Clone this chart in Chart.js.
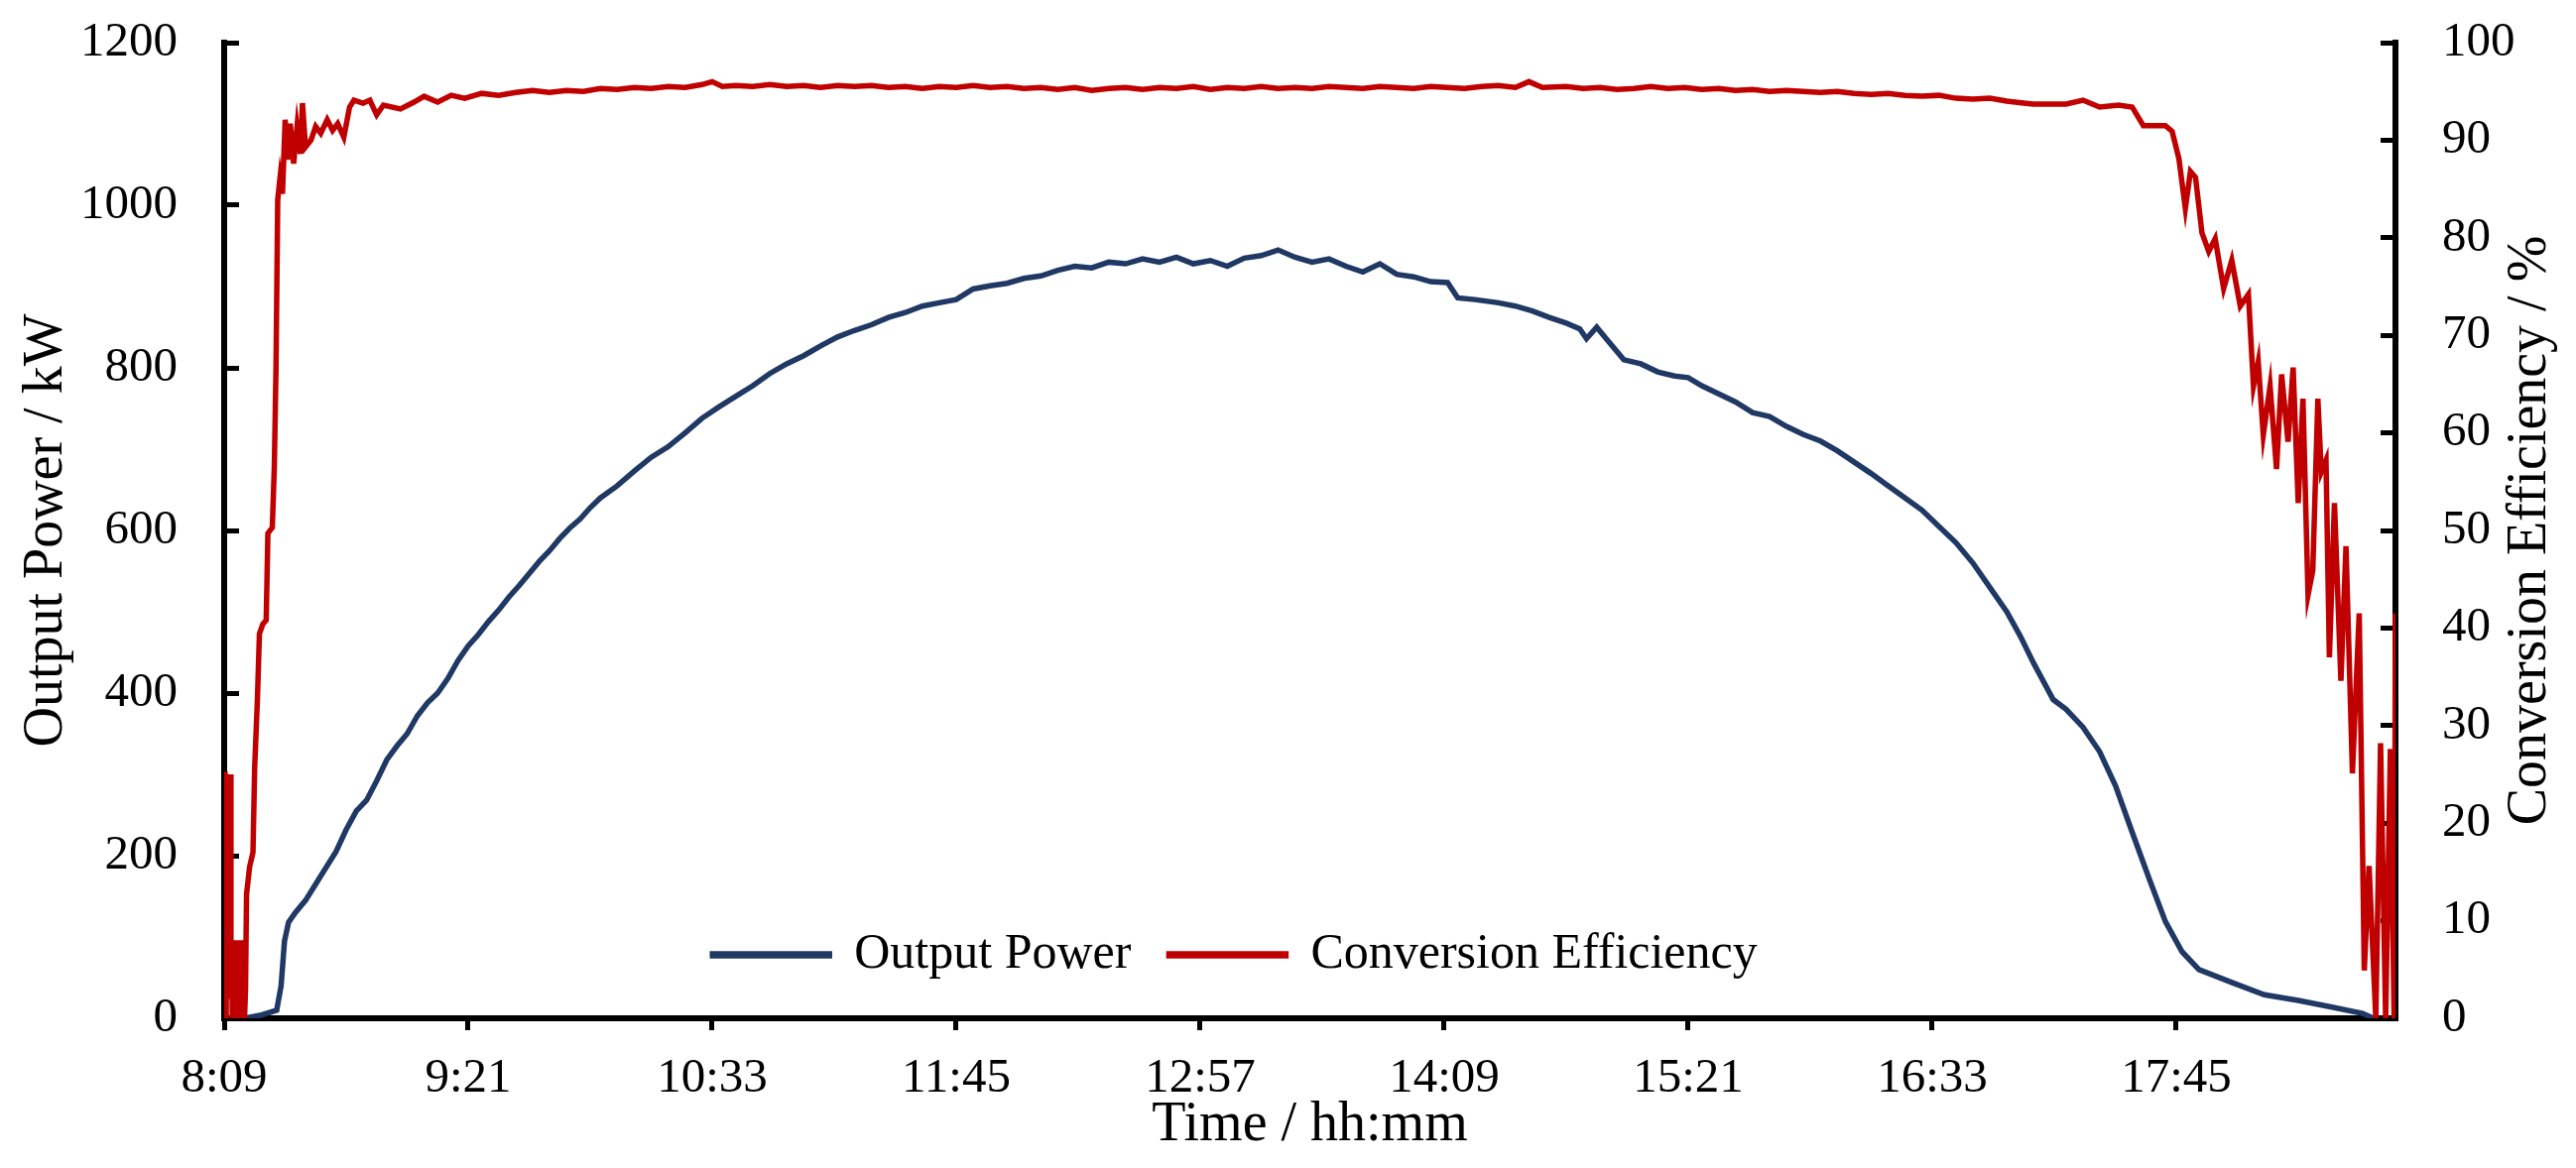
<!DOCTYPE html>
<html>
<head>
<meta charset="utf-8">
<script src="https://cdn.jsdelivr.net/npm/chart.js@4/dist/chart.umd.min.js"></script>
<style>
  html, body { margin: 0; padding: 0; background: #ffffff; }
  #c { display: block; }
</style>
</head>
<body>
<canvas id="c" width="2597" height="1178"></canvas>
<script>
// ---------------- DATA ----------------
const xTickLabels = ['8:09', '9:21', '10:33', '11:45', '12:57', '14:09', '15:21', '16:33', '17:45'];
const xRange = ['8:09:00', '18:49:42'];
const powerRange = [0, 1200];
const powerStep = 200;
const effRange = [0, 100];
const effStep = 10;

const seriesNames = ['Output Power', 'Conversion Efficiency'];
const xTitle = 'Time / hh:mm';
const yTitle = 'Output Power / kW';
const y1Title = 'Conversion Efficiency / %';

const powerTimes = [
  '8:15:00','8:20:00','8:24:30','8:25:48','8:26:48','8:28:00','8:30:00','8:33:00','8:36:00','8:39:00',
  '8:42:00','8:45:00','8:48:00','8:51:00','8:54:00','8:57:00','9:00:00','9:03:00','9:06:00','9:09:00',
  '9:12:00','9:15:00','9:18:00','9:21:00','9:24:00','9:27:00','9:30:00','9:33:00','9:36:00','9:39:00',
  '9:42:00','9:45:00','9:48:00','9:51:00','9:54:00','9:57:00','10:00:00','10:05:00','10:10:00','10:15:00',
  '10:20:00','10:25:00','10:30:00','10:35:00','10:40:00','10:45:00','10:50:00','10:55:00','11:00:00','11:05:00',
  '11:10:00','11:15:00','11:20:00','11:25:00','11:30:00','11:35:00','11:40:00','11:45:00','11:50:00','11:55:00',
  '12:00:00','12:05:00','12:10:00','12:15:00','12:20:00','12:25:00','12:30:00','12:35:00','12:40:00','12:45:00',
  '12:50:00','12:55:00','13:00:00','13:05:00','13:10:00','13:15:00','13:20:00','13:25:00','13:30:00','13:35:00',
  '13:40:00','13:45:00','13:50:00','13:55:00','14:00:00','14:05:00','14:10:00','14:13:00','14:18:00','14:25:00',
  '14:30:00','14:35:00','14:40:00','14:45:00','14:49:00','14:51:00','14:54:00','14:58:00','15:02:00','15:07:00',
  '15:12:00','15:17:00','15:21:00','15:25:00','15:30:00','15:35:00','15:40:00','15:45:00','15:50:00','15:55:00',
  '16:00:00','16:05:00','16:10:00','16:15:00','16:20:00','16:25:00','16:30:00','16:35:00','16:40:00','16:45:00',
  '16:50:00','16:55:00','16:59:00','17:02:54','17:08:42','17:12:30','17:17:30','17:22:24','17:27:06','17:32:00',
  '17:37:00','17:41:48','17:46:42','17:51:42','18:01:24','18:11:00','18:21:00','18:30:36','18:40:00','18:43:12'
];
const powerValues = [
  0, 4, 10, 40, 95, 118, 130, 145, 165, 185,
  205, 232, 255, 268, 292, 318, 335, 350, 372, 388,
  400, 418, 440, 458, 472, 488, 502, 518, 532, 547,
  562, 575, 590, 603, 614, 628, 640, 655, 673, 690,
  703, 720, 738, 752, 765, 778, 793, 805, 815, 827,
  838, 846, 853, 862, 868, 876, 880, 884, 897, 901,
  904, 910, 913, 920, 925, 923, 930, 928, 934, 930,
  936, 928, 932, 925, 935, 938, 945, 936, 930, 934,
  925, 918, 928, 915, 912, 906, 905, 886, 884, 880,
  876, 870, 862, 855, 848, 836, 850, 830, 810, 805,
  795, 790, 788, 778, 768, 758, 745, 740, 728, 718,
  710, 698, 684, 670, 655, 640, 625, 605, 585, 560,
  530, 500, 470, 437, 392, 380, 358, 328, 286, 229,
  172, 119, 82, 60, 44, 29, 22, 14, 6, 0
];

const effTimes = [
  '8:09:00','8:09:06','8:09:18','8:09:36','8:09:54','8:10:12','8:10:30','8:10:48','8:11:00','8:11:12',
  '8:11:24','8:11:36','8:11:48','8:12:00','8:12:12','8:12:24','8:12:36','8:12:48','8:13:00','8:13:12',
  '8:13:24','8:13:36','8:13:48','8:14:00','8:14:12','8:14:24','8:14:36','8:14:48','8:15:00','8:15:18',
  '8:15:36','8:16:30','8:17:30','8:18:00','8:18:48','8:19:24','8:20:24','8:21:24',
  '8:21:54','8:23:12','8:23:48','8:24:18','8:24:48','8:25:30','8:26:12','8:27:00','8:27:42','8:28:30',
  '8:29:30','8:30:30','8:31:30','8:32:06','8:33:00','8:34:36','8:36:00','8:37:30','8:39:24','8:41:00',
  '8:42:30','8:44:18','8:46:00','8:47:18','8:50:00','8:52:00','8:54:00','8:56:00','9:01:00','9:05:00',
  '9:08:00','9:12:00','9:16:00','9:20:00','9:25:00','9:30:00','9:35:00','9:40:00','9:45:00','9:50:00',
  '9:55:00','10:00:00','10:05:00','10:10:00','10:15:00','10:20:00','10:25:00','10:30:00','10:33:00','10:36:00',
  '10:40:00','10:45:00','10:50:00','10:55:00','11:00:00','11:05:00','11:10:00','11:15:00','11:20:00','11:25:00',
  '11:30:00','11:35:00','11:40:00','11:45:00','11:50:00','11:55:00','12:00:00','12:05:00','12:10:00','12:15:00',
  '12:20:00','12:25:00','12:30:00','12:35:00','12:40:00','12:45:00','12:50:00','12:55:00','13:00:00','13:05:00',
  '13:10:00','13:15:00','13:20:00','13:25:00','13:30:00','13:35:00','13:40:00','13:45:00','13:50:00','13:55:00',
  '14:00:00','14:05:00','14:10:00','14:15:00','14:20:00','14:25:00','14:30:00','14:34:00','14:38:00','14:45:00',
  '14:50:00','14:55:00','15:00:00','15:05:00','15:10:00','15:15:00','15:20:00','15:25:00','15:30:00','15:35:00',
  '15:40:00','15:45:00','15:50:00','15:55:00','16:00:00','16:05:00','16:10:00','16:15:00','16:20:00','16:25:00',
  '16:30:00','16:35:00','16:40:00','16:45:00','16:50:00','16:55:00','17:00:00','17:02:54','17:12:30','17:17:30',
  '17:22:24','17:28:00','17:32:00','17:35:18','17:41:48','17:43:48','17:45:48','17:47:42','17:49:12','17:50:42',
  '17:52:36','17:54:36','17:56:30','17:59:00','18:01:24','18:03:54','18:06:18','18:07:48','18:09:12','18:10:42',
  '18:12:42','18:14:36','18:16:06','18:18:00','18:19:30','18:21:00','18:22:24','18:23:54','18:25:18','18:26:48',
  '18:27:48','18:29:12','18:30:12','18:31:42','18:33:36','18:35:06','18:37:00','18:39:00','18:40:30','18:41:54',
  '18:43:54','18:45:18','18:46:48','18:48:12','18:49:18','18:49:42'
];
const effValues = [
  0, 25, 25, 0, 25, 2, 24, 25, 3, 8,
  0, 7, 0, 8, 0, 7, 0, 8, 0, 7,
  0, 8, 0, 7, 0, 8, 0, 7, 0, 3,
  12.7, 15.5, 17, 25.7, 32.6, 39.4, 40.4, 40.8,
  49.7, 50.3, 56.5, 66.8, 83.9, 86.2, 84.5, 92.1, 88.0, 91.7,
  87.6, 91.4, 88.6, 93.8, 89.3, 90.0, 91.4, 90.7, 92.1, 91.0,
  91.7, 90.3, 93.4, 94.1, 93.8, 94.1, 92.6, 93.6, 93.2, 93.9,
  94.5, 93.9, 94.6, 94.3, 94.8, 94.6, 94.9, 95.1, 94.9, 95.1,
  95.0, 95.3, 95.2, 95.4, 95.3, 95.5, 95.4, 95.7, 96.0, 95.5,
  95.6, 95.5, 95.7, 95.5, 95.6, 95.4, 95.6, 95.5, 95.6, 95.4,
  95.5, 95.3, 95.5, 95.4, 95.6, 95.4, 95.5, 95.3, 95.4, 95.2,
  95.4, 95.1, 95.3, 95.4, 95.2, 95.4, 95.3, 95.5, 95.2, 95.4,
  95.3, 95.5, 95.3, 95.4, 95.3, 95.5, 95.4, 95.3, 95.5, 95.4,
  95.3, 95.5, 95.4, 95.3, 95.5, 95.6, 95.4, 96.0, 95.4, 95.5,
  95.3, 95.4, 95.2, 95.3, 95.5, 95.3, 95.4, 95.2, 95.3, 95.1,
  95.2, 95.0, 95.1, 95.0, 94.9, 95.0, 94.8, 94.7, 94.8, 94.6,
  94.5, 94.6, 94.3, 94.2, 94.3, 94.0, 93.8, 93.7, 93.7, 94.1,
  93.4, 93.6, 93.4, 91.5, 91.5, 90.9, 88.1, 83.0, 86.8, 86.2,
  80.5, 78.6, 79.9, 74.8, 77.7, 73.0, 74.2, 64.8, 67.3, 59.8,
  64.8, 56.3, 66.0, 59.1, 66.7, 52.8, 63.5, 43.4, 45.9, 63.5,
  56.0, 57.2, 37.0, 52.8, 34.6, 48.4, 25.1, 41.5, 4.9, 15.6,
  0, 28.2, 0, 27.6, 0, 41.5
];

// ---------------- HELPERS ----------------
function toMinutes(s) {
  const p = s.split(':').map(Number);
  return p[0] * 60 + p[1] + (p[2] || 0) / 60;
}
function fmtTime(v) {
  const m = Math.round(v);
  return Math.floor(m / 60) + ':' + String(m % 60).padStart(2, '0');
}
const pointsOf = (times, values) => times.map((t, i) => ({ x: toMinutes(t), y: values[i] }));

const SERIF = "'Liberation Serif', 'Times New Roman', serif";
const BLUE = '#1F3864';
const RED = '#C00000';
const LINE_W = 5.5;

const rightTitlePlugin = {
  id: 'rightTitle',
  afterDraw(chart) {
    const s = chart.scales.y1;
    const ctx = chart.ctx;
    ctx.save();
    ctx.translate(s.right - 46, (chart.chartArea.top + chart.chartArea.bottom) / 2);
    ctx.rotate(-Math.PI / 2);
    ctx.font = '56px ' + SERIF;
    ctx.fillStyle = '#000';
    ctx.textAlign = 'center';
    ctx.textBaseline = 'middle';
    ctx.fillText(y1Title, 0, 0);
    ctx.restore();
  }
};

const legendInsidePlugin = {
  id: 'legendInside',
  afterLayout(chart) {
    const lg = chart.legend;
    if (!lg) return;
    lg.top = 900;
    lg.bottom = 1010;
    lg.height = 110;
    lg.left = 0;
    lg.right = 2490;
    lg.width = 2490;
  }
};

const noEdgePadding = (scale) => { scale.paddingTop = 0; scale.paddingBottom = 0; };

new Chart(document.getElementById('c'), {
  type: 'line',
  data: {
    datasets: [
      {
        label: seriesNames[0],
        data: pointsOf(powerTimes, powerValues),
        yAxisID: 'y',
        borderColor: BLUE,
        backgroundColor: BLUE,
        borderWidth: LINE_W,
        pointRadius: 0,
        tension: 0,
        order: 1
      },
      {
        label: seriesNames[1],
        data: pointsOf(effTimes, effValues),
        yAxisID: 'y1',
        borderColor: RED,
        backgroundColor: RED,
        borderWidth: LINE_W,
        pointRadius: 0,
        tension: 0,
        order: 0
      }
    ]
  },
  options: {
    responsive: false,
    devicePixelRatio: 1,
    animation: false,
    layout: { padding: { top: 43, left: 0, right: 0, bottom: 0 } },
    plugins: {
      legend: {
        display: true,
        position: 'bottom',
        reverse: true,
        maxHeight: 1,
        labels: {
          font: { family: SERIF, size: 50 },
          color: '#000',
          boxWidth: 118,
          boxHeight: 2,
          padding: 38
        }
      },
      tooltip: { enabled: false }
    },
    scales: {
      x: {
        type: 'linear',
        position: 'bottom',
        min: toMinutes(xRange[0]),
        max: toMinutes(xRange[1]),
        afterBuildTicks: (scale) => {
          scale.ticks = xTickLabels.map(l => ({ value: toMinutes(l) }));
        },
        afterFit: (scale) => { scale.height = 150; },
        border: { display: true, color: '#000', width: 6 },
        grid: { drawOnChartArea: false, drawTicks: true, tickLength: 12, color: '#000', lineWidth: 5 },
        ticks: {
          font: { family: SERIF, size: 49 },
          color: '#000',
          padding: 20,
          maxRotation: 0,
          autoSkip: false,
          includeBounds: false,
          callback: (v) => fmtTime(v)
        },
        title: {
          display: true,
          text: xTitle,
          color: '#000',
          font: { family: SERIF, size: 56 },
          padding: { top: 0, bottom: 8 }
        }
      },
      y: {
        type: 'linear',
        position: 'left',
        min: powerRange[0],
        max: powerRange[1],
        afterFit: (scale) => { scale.width = 226; noEdgePadding(scale); },
        border: { display: true, color: '#000', width: 6 },
        grid: { drawOnChartArea: false, drawTicks: true, tickLength: -15, color: '#000', lineWidth: 5 },
        ticks: {
          stepSize: powerStep,
          font: { family: SERIF, size: 49 },
          color: '#000',
          padding: 62,
          callback: (v) => String(v)
        },
        title: {
          display: true,
          text: yTitle,
          color: '#000',
          font: { family: SERIF, size: 56 },
          padding: { top: 14, bottom: 0 }
        }
      },
      y1: {
        type: 'linear',
        position: 'right',
        min: effRange[0],
        max: effRange[1],
        afterFit: (scale) => { scale.width = 182; noEdgePadding(scale); },
        border: { display: true, color: '#000', width: 6 },
        grid: { drawOnChartArea: false, drawTicks: true, tickLength: -15, color: '#000', lineWidth: 5 },
        ticks: {
          stepSize: effStep,
          font: { family: SERIF, size: 49 },
          color: '#000',
          padding: 62,
          callback: (v) => String(v)
        },
        title: { display: false, text: y1Title }
      }
    }
  },
  plugins: [rightTitlePlugin, legendInsidePlugin]
});
</script>
</body>
</html>
